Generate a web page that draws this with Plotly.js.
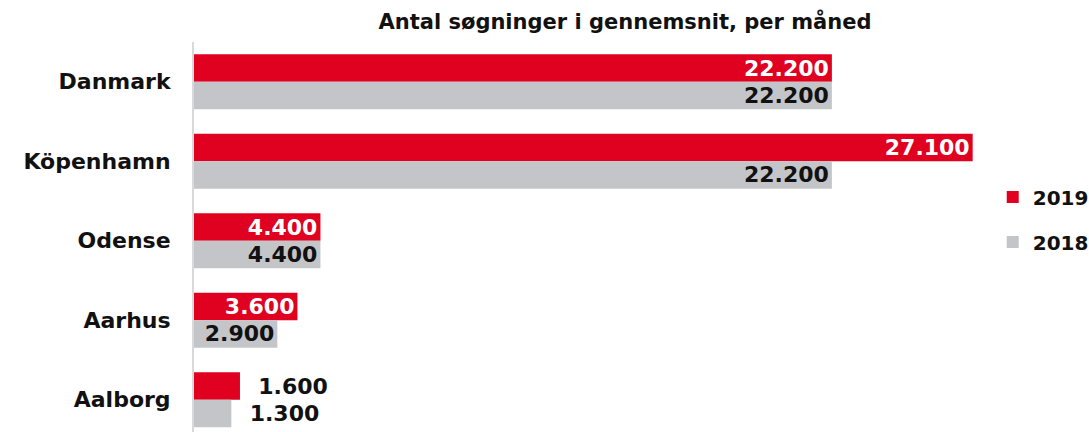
<!DOCTYPE html>
<html><head><meta charset="utf-8">
<script src="https://cdn.plot.ly/plotly-3.0.1.min.js"></script>
<style>body{margin:0;background:#fff}#c{width:1089px;height:432px}</style>
</head><body><div id="c"></div>
<script>
const categories = ["Danmark", "Köpenhamn", "Odense", "Aarhus", "Aalborg"];
const values2019 = [22200, 27100, 4400, 3600, 1600];
const values2018 = [22200, 22200, 4400, 2900, 1300];
const seriesNames = ["2019", "2018"];
const titleText = "Antal søgninger i gennemsnit, per måned";

const FONT = "DejaVu Sans, sans-serif";
const fmt = v => v.toLocaleString("de-DE");
const pos = vals => vals.map(v => v < 2000 ? "outside" : "inside");
const txt = vals => vals.map(v => v < 2000 ? "\u00a0\u00a0" + fmt(v) : fmt(v));

const traces = [
  {type:"bar", orientation:"h", name:seriesNames[0], y:categories, x:values2019,
   marker:{color:"#e0001f"}, text:txt(values2019), textposition:pos(values2019),
   insidetextanchor:"end", cliponaxis:false, constraintext:"none",
   insidetextfont:{family:FONT, size:22, color:"#ffffff", weight:700},
   outsidetextfont:{family:FONT, size:22, color:"#111111", weight:700},
   hoverinfo:"none", legendgroup:"a"},
  {type:"bar", orientation:"h", name:seriesNames[1], y:categories, x:values2018,
   marker:{color:"#c4c5c9"}, text:txt(values2018), textposition:pos(values2018),
   insidetextanchor:"end", cliponaxis:false, constraintext:"none",
   insidetextfont:{family:FONT, size:22, color:"#111111", weight:700},
   outsidetextfont:{family:FONT, size:22, color:"#111111", weight:700},
   hoverinfo:"none", legendgroup:"b"}
];

const layout = {
  width:1089, height:432,
  margin:{l:194, r:33, t:42, b:0, pad:0, autoexpand:false},
  paper_bgcolor:"#fff", plot_bgcolor:"#fff",
  barmode:"group", bargap:0.31, bargroupgap:0,
  font:{family:FONT, color:"#111"},
  title:{text:titleText, x:0.5, xref:"paper", xanchor:"center", y:1-22/432, yanchor:"middle",
         font:{family:FONT, size:21, color:"#111", weight:700}},
  xaxis:{range:[0,30000], showgrid:false, zeroline:false, showticklabels:false, showline:false, fixedrange:true},
  yaxis:{type:"category", categoryorder:"array", categoryarray:categories, range:[4.406,-0.5],
         showgrid:false, zeroline:false, showline:true, linecolor:"#d9d9d9", linewidth:2,
         ticks:"", ticklabelstandoff:17,
         tickfont:{family:FONT, size:22, color:"#111", weight:700}},
  showlegend:true,
  legend:{x:0.9266, xanchor:"left", y:0.545, yanchor:"middle", traceorder:"grouped", tracegroupgap:16,
          itemwidth:30, font:{family:FONT, size:20, color:"#111", weight:700}, bgcolor:"rgba(0,0,0,0)"}
};
Plotly.newPlot("c", traces, layout, {displayModeBar:false, staticPlot:true});
</script></body></html>
